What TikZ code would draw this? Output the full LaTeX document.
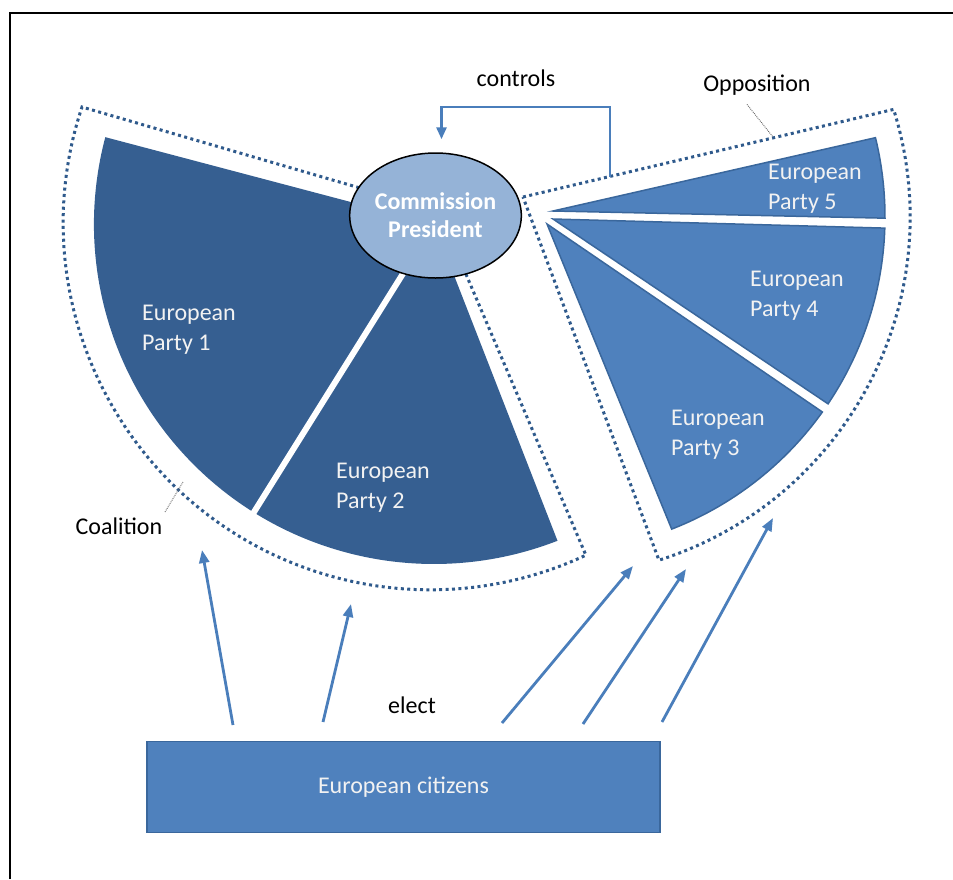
\documentclass[tikz,border=0pt]{standalone}
\usepackage{fontspec}
\setmainfont{Carlito}
\usetikzlibrary{shapes.geometric,arrows.meta,calc}
\definecolor{coal}{HTML}{365F91}
\definecolor{oppo}{HTML}{4F81BD}
\definecolor{oppoline}{HTML}{3A679C}
\definecolor{dotc}{HTML}{2F5A8C}
\definecolor{presc}{HTML}{95B3D7}
\definecolor{linkc}{HTML}{4A7EBB}
\definecolor{ptext}{HTML}{F2F2F2}
\begin{document}
\begin{tikzpicture}[x=1pt,y=-1pt,
  every node/.style={font=\fontsize{24}{30}\selectfont},
  dotbox/.style={draw=dotc, line width=3pt, dash pattern=on 3pt off 3.4pt},
  partytext/.style={text=ptext, align=left, anchor=west, inner sep=0pt},
  lbl/.style={text=black, inner sep=0pt},
  leader/.style={draw=gray!80!black, line width=0.9pt, densely dotted},
  elarrow/.style={draw=linkc, line width=2.8pt, -{Triangle[length=13pt,width=10pt]}},
  opp/.style={fill=oppo, draw=oppoline, line width=1.5pt},
  presnode/.style={ellipse, draw=black, line width=1.5pt, fill=presc, minimum width=155pt, minimum height=125pt, inner sep=0pt, align=center, text=white, font=\fontsize{24}{28}\selectfont\bfseries},
  citbox/.style={rectangle, fill=oppo, draw=oppoline, line width=1.5pt, minimum width=513pt, minimum height=91pt, inner sep=0pt, text=ptext}
]
\useasboundingbox (0,0) rectangle (953,879);
% frame
\draw[line width=2pt] (10,879) -- (10,13) -- (960,13);

% coalition
\coordinate (C1) at (434,224);
\draw[dotbox] (439,211) -- (82,107) arc[start angle=198.4, end angle=64.9, radius=367] -- cycle;
\fill[coal] (C1) -- ++(194.8:340) arc[start angle=194.8, end angle=68.7, radius=340] -- cycle;
\draw[white, line width=6pt] (C1) -- ++(122:352);

% opposition
\coordinate (C2) at (550,217);
\draw[dotbox] (523,197) -- (893.6,109.4) arc[start angle=-17.4, end angle=72.4, radius=360] -- cycle;
\filldraw[opp] (553,211) -- ($(C2)+(-13.7:335)$) arc[start angle=-13.7, end angle=0.2, radius=335] -- cycle;
\filldraw[opp] (553,219) -- ($(C2)+(1.9:335)$) arc[start angle=1.9, end angle=33.9, radius=335] -- cycle;
\filldraw[opp] (547,224) -- ($(C2)+(35.6:335)$) arc[start angle=35.6, end angle=68.7, radius=335] -- cycle;

% party labels
\node[partytext] (p1) at (142,330) {European\\Party 1};
\node[partytext] (p2) at (336,488) {European\\Party 2};
\node[partytext] (p3) at (671,435) {European\\Party 3};
\node[partytext] (p4) at (750,296) {European\\Party 4};
\node[partytext] (p5) at (768,189) {European\\Party 5};

% president
\node[presnode] (pres) at (435.5,215.5) {Commission\\President};

% controls
\node[lbl] (controls) at (516,78) {controls};
\coordinate (ctrlstart) at (610,177);
\draw[draw=linkc, line width=2.8pt, -{Triangle[length=12pt,width=10pt]}]
  (ctrlstart) -- (610,107) -| ($(pres.north)+(6,-13)$);

% labels with leaders
\node[lbl] (opplabel) at (757,85) {Opposition};
\coordinate (oppdot) at (773,137);
\draw[leader] ([shift={(-10,9)}]opplabel.south) -- (oppdot);
\node[lbl] (coallabel) at (119,526) {Coalition};
\coordinate (coaldot) at (183,482);
\coordinate (coalleadend) at (165,512);
\draw[leader] (coalleadend) -- (coaldot);

% citizens
\node[citbox] (cit) at (403.5,787) {European citizens};
\node[lbl] (elect) at (412,705) {elect};
\coordinate (e1s) at (233,725); \coordinate (e1t) at (202,550);
\coordinate (e2s) at (323,722); \coordinate (e2t) at (351,604);
\coordinate (e3s) at (502,723); \coordinate (e3t) at (633,566);
\coordinate (e4s) at (583,724); \coordinate (e4t) at (686,569);
\coordinate (e5s) at (662,722); \coordinate (e5t) at (773,518);
\draw[elarrow] (e1s) -- (e1t);
\draw[elarrow] (e2s) -- (e2t);
\draw[elarrow] (e3s) -- (e3t);
\draw[elarrow] (e4s) -- (e4t);
\draw[elarrow] (e5s) -- (e5t);
\end{tikzpicture}
\end{document}
